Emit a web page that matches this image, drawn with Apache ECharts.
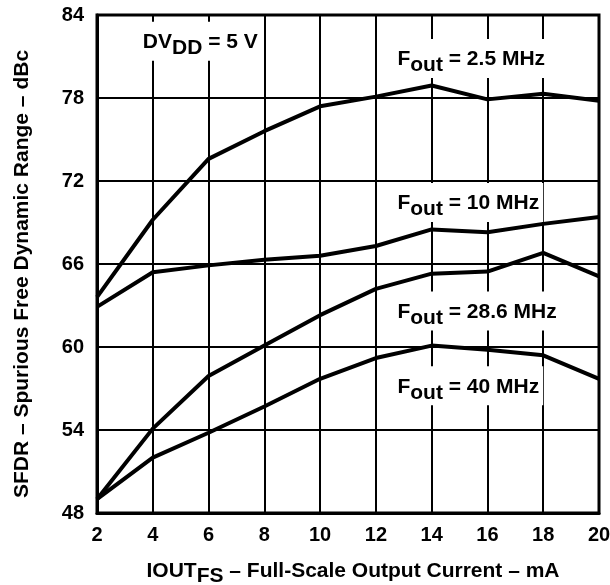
<!DOCTYPE html>
<html>
<head>
<meta charset="utf-8">
<script src="https://cdn.jsdelivr.net/npm/echarts@6/dist/echarts.min.js"></script>
<style>html,body{margin:0;padding:0;background:#fff}#c{width:610px;height:585px}</style>
</head>
<body>
<div id="c"></div>
<script>
const xValues = [2, 4, 6, 8, 10, 12, 14, 16, 18, 20];
const f2_5 = [63.6, 69.2, 73.6, 75.6, 77.4, 78.1, 78.9, 77.9, 78.3, 77.8];
const f10 = [62.9, 65.4, 65.9, 66.3, 66.6, 67.3, 68.5, 68.3, 68.9, 69.4];
const f28_6 = [49.0, 54.1, 57.9, 60.1, 62.3, 64.2, 65.3, 65.45, 66.8, 65.1];
const f40 = [49.0, 52.0, 53.8, 55.7, 57.7, 59.2, 60.1, 59.8, 59.4, 57.7];
const seriesNames = ['2.5 MHz', '10 MHz', '28.6 MHz', '40 MHz'];
const labels = [
  {head: 'DV', sub: 'DD', tail: ' = 5 V', x: 3.5, y: 82.1},
  {head: 'F', sub: 'out', tail: ' = 2.5 MHz', x: 12.63, y: 80.85},
  {head: 'F', sub: 'out', tail: ' = 10 MHz', x: 12.63, y: 70.45},
  {head: 'F', sub: 'out', tail: ' = 28.6 MHz', x: 12.63, y: 62.6},
  {head: 'F', sub: 'out', tail: ' = 40 MHz', x: 12.63, y: 57.2}
];
const FONT = '"Liberation Sans", Arial, Helvetica, sans-serif';
const chart = echarts.init(document.getElementById('c'));
const mk = d => xValues.map((x, i) => [x, d[i]]);
const datas = [f2_5, f10, f28_6, f40];
chart.setOption({
  animation: false,
  backgroundColor: '#fff',
  grid: {left: 97, right: 11, top: 15, bottom: 72, show: true, borderColor: '#000', borderWidth: 3,
         containLabel: false, outerBoundsMode: 'none'},
  xAxis: {
    type: 'value', min: 2, max: 20, interval: 2,
    axisLine: {show: true, lineStyle: {color: '#000', width: 3}},
    axisTick: {show: false},
    splitLine: {show: true, lineStyle: {color: '#000', width: 2}},
    axisLabel: {color: '#000', fontFamily: FONT, fontWeight: 'bold', fontSize: 20, margin: 12},
    name: '{a|IOUT}{s|FS}{a| – Full-Scale Output Current – mA}',
    nameLocation: 'middle', nameGap: 43,
    nameTextStyle: {padding: [0, 0, 0, 10], rich: {
      a: {color: '#000', fontFamily: FONT, fontWeight: 'bold', fontSize: 21},
      s: {color: '#000', fontFamily: FONT, fontWeight: 'bold', fontSize: 21, padding: [10, 0, 0, 0]}
    }}
  },
  yAxis: {
    type: 'value', min: 48, max: 84, interval: 6,
    axisLine: {show: true, lineStyle: {color: '#000', width: 3}},
    axisTick: {show: false},
    splitLine: {show: true, lineStyle: {color: '#000', width: 2}},
    axisLabel: {color: '#000', fontFamily: FONT, fontWeight: 'bold', fontSize: 20, margin: 13},
    name: 'SFDR – Spurious Free Dynamic Range – dBc',
    nameLocation: 'middle', nameGap: 64, nameRotate: 90,
    nameTextStyle: {color: '#000', fontFamily: FONT, fontWeight: 'bold', fontSize: 21, padding: [0, 20, 0, 0]}
  },
  series: datas.map((d, i) => ({
    name: seriesNames[i], type: 'line', data: mk(d), symbol: 'none',
    lineStyle: {color: '#000', width: 4}, z: 5
  }))
});
function placeLabels() {
  chart.setOption({
    graphic: labels.map(l => {
      const p = chart.convertToPixel({gridIndex: 0}, [l.x, l.y]);
      return {
        type: 'text', x: p[0], y: p[1], z: 100,
        style: {
          text: '{a|' + l.head + '}{s|' + l.sub + '}{a|' + l.tail + '}',
          verticalAlign: 'middle', align: 'left',
          backgroundColor: '#fff', padding: [4, 4, 2, 4],
          rich: {
            a: {fill: '#000', fontFamily: FONT, fontWeight: 'bold', fontSize: 21},
            s: {fill: '#000', fontFamily: FONT, fontWeight: 'bold', fontSize: 21, padding: [12, 0, 0, 0]}
          }
        }
      };
    })
  });
}
placeLabels();
</script>
</body>
</html>
